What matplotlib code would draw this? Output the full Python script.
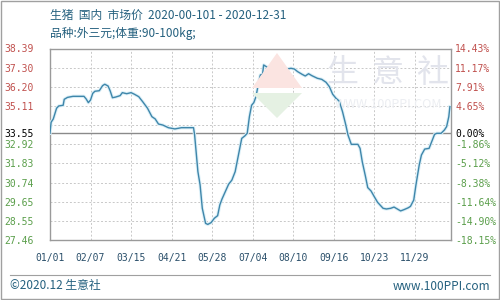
#!/usr/bin/env python3
# Live hog price (domestic market), 2020 -- left axis price, right axis change vs. first day
import matplotlib
matplotlib.use("Agg")
import matplotlib.pyplot as plt
from matplotlib.patches import Polygon, Rectangle

# ---- data (day offset from 2020-01-01, price yuan/kg) ----
days = [0, 1, 3, 6, 8, 12, 13, 16, 21, 31, 33, 35, 37, 39, 41, 45, 48, 50, 53, 55,
        57, 60, 64, 66, 70, 74, 77, 81, 85, 89, 93, 96, 99, 103, 108, 114, 120, 131,
        132, 135, 137, 139, 142, 144, 147, 150, 153, 155, 157, 160, 163, 166, 169,
        172, 175, 178, 180, 182, 184, 186, 188, 190, 192, 194, 195, 198, 203, 207,
        210, 213, 216, 220, 223, 226, 230, 233, 236, 239, 244, 248, 252, 255, 258,
        261, 264, 267, 270, 272, 275, 278, 281, 283, 285, 288, 290, 293, 296, 299,
        304, 307, 311, 314, 317, 320, 323, 327, 329, 332, 334, 337, 339, 342, 346,
        349, 351, 353, 357, 360, 362, 364, 365]
prices = [33.55, 34.18, 34.37, 34.98, 35.11, 35.15, 35.49, 35.60, 35.66, 35.66,
          35.51, 35.30, 35.45, 35.83, 35.95, 35.98, 36.27, 36.35, 36.25, 35.96,
          35.58, 35.62, 35.70, 35.87, 35.81, 35.87, 35.78, 35.64, 35.32, 34.98,
          34.50, 34.37, 34.08, 34.02, 33.87, 33.80, 33.87, 33.87, 33.45, 31.36,
          30.60, 29.27, 28.41, 28.35, 28.45, 28.70, 28.85, 29.46, 29.80, 30.22,
          30.64, 30.88, 31.36, 32.31, 33.26, 33.41, 33.55, 34.50, 35.15, 35.30,
          35.64, 36.31, 36.88, 36.92, 37.45, 37.33, 37.26, 37.16, 36.95, 37.03,
          37.22, 37.26, 37.22, 37.07, 36.92, 36.82, 36.95, 36.84, 36.69, 36.63,
          36.46, 36.21, 35.78, 35.55, 35.39, 34.78, 34.02, 33.45, 32.92, 32.92,
          32.92, 32.69, 31.93, 31.07, 30.45, 30.26, 29.93, 29.61, 29.27, 29.23,
          29.27, 29.34, 29.23, 29.12, 29.19, 29.30, 29.38, 29.74, 30.60, 31.74,
          32.31, 32.65, 32.69, 33.17, 33.49, 33.55, 33.55, 33.74, 33.93, 34.50,
          35.07]

base_price = 33.55
x_tick_days = [0, 37, 74, 111, 148, 185, 222, 259, 296, 333]
x_tick_labels = ["01/01", "02/07", "03/15", "04/21", "05/28",
                 "07/04", "08/10", "09/16", "10/23", "11/29"]
y_grid = [27.46, 28.55, 29.65, 30.74, 31.83, 32.92, 34.02, 35.11, 36.20, 37.30, 38.39]
y_labels = ["27.46", "28.55", "29.65", "30.74", "31.83", "32.92", "",
            "35.11", "36.20", "37.30", "38.39"]
pct_labels = ["-18.15%", "-14.90%", "-11.64%", "-8.38%", "-5.12%", "-1.86%", "",
              "4.65%", "7.91%", "11.17%", "14.43%"]

title1 = "生猪  国内  市场价  2020-00-101 - 2020-12-31"
title2 = "品种:外三元;体重:90-100kg;"
footer_left = "©2020.12 生意社"
footer_right = "www.100PPI.com"

W, H = 500, 300
RED, GREEN, BLACK = "#c0504d", "#5a9e4a", "#000000"
TEAL = "#24607e"
LINE = "#3f86aa"


def fx(x):
    return x / W


def fy(y):
    return 1 - y / H


def main():
    plt.rcParams["font.family"] = ["Noto Sans CJK SC", "DejaVu Sans"]
    fig = plt.figure(figsize=(W / 100, H / 100), dpi=100)
    fig.patch.set_facecolor("white")

    # outer frame
    fig.patches.append(Rectangle((0.001, 0.002), 0.997, 0.995, transform=fig.transFigure,
                                 fill=False, edgecolor="#a0a0a0", linewidth=1.0))

    ax = fig.add_axes([fx(50), fy(240), fx(451) - fx(50), fy(48.5) - fy(240)])
    ax.set_xlim(0, 366)
    ax.set_ylim(y_grid[0], y_grid[-1])

    # watermark: logo diamond + brand text
    wm_red = Polygon([(fx(252), fy(88)), (fx(277), fy(53)), (fx(302), fy(88))],
                     closed=True, transform=fig.transFigure, facecolor="#fbe4e1",
                     edgecolor="none", zorder=0)
    wm_green = Polygon([(fx(252), fy(93)), (fx(302), fy(93)), (fx(277), fy(118))],
                       closed=True, transform=fig.transFigure, facecolor="#e5f1e3",
                       edgecolor="none", zorder=0)
    fig.patches.extend([wm_red, wm_green])
    for ch, xc in zip("生意社", [342, 388, 432]):
        fig.text(fx(xc), fy(73), ch, fontsize=23, color="#e2e4ec", ha="center",
                 va="center", zorder=0)
    fig.text(fx(388), fy(105), "WWW.100PPI.COM", fontsize=9, color="#eceef2",
             ha="center", va="center", zorder=0)
    ax.patch.set_alpha(0)

    # grid
    for v in y_grid:
        ax.axhline(v, color="#c8c8c8", lw=0.7, ls=(0, (2, 2)), zorder=1)
    for d in x_tick_days[1:]:
        ax.axvline(d, color="#c8c8c8", lw=0.7, ls=(0, (2, 2)), zorder=1)
    ax.axhline(base_price, color="#8a8a8a", lw=1.0, zorder=2)

    ax.plot(days, prices, color="#dcf0f8", lw=2.4, zorder=3, solid_joinstyle="round")
    ax.plot(days, prices, color=LINE, lw=1.0, zorder=4)

    for s in ax.spines.values():
        s.set_color("#9a9a9a")
        s.set_linewidth(1.0)

    # x ticks
    ax.set_xticks(x_tick_days)
    ax.set_xticklabels(x_tick_labels, family="DejaVu Sans Mono", fontsize=7, color="#2a4f6a")
    ax.tick_params(axis="x", length=0, pad=9)

    # left price labels (red above base, green below, base in black)
    ax.set_yticks(y_grid + [base_price])
    ax.set_yticklabels(y_labels + [f"{base_price:.2f}"], family="DejaVu Sans Mono", fontsize=7)
    ax.tick_params(axis="y", length=0, pad=11.5)
    for t, v in zip(ax.get_yticklabels(), y_grid + [base_price]):
        t.set_color(RED if v > base_price else (GREEN if v < base_price else BLACK))

    # right percentage labels
    ax2 = ax.twinx()
    ax2.set_ylim(ax.get_ylim())
    ax2.set_yticks(y_grid + [base_price])
    ax2.set_yticklabels(pct_labels + ["0.00%"], family="DejaVu Sans Mono", fontsize=7)
    ax2.tick_params(axis="y", length=0, pad=3)
    for t, v in zip(ax2.get_yticklabels(), y_grid + [base_price]):
        t.set_color(RED if v > base_price else (GREEN if v < base_price else BLACK))
    for s in ax2.spines.values():
        s.set_visible(False)

    # titles
    fig.text(fx(50), fy(15), title1, fontsize=8.5, color=TEAL, ha="left", va="center")
    fig.text(fx(50), fy(33), title2, fontsize=8.5, color=TEAL, ha="left", va="center")

    # footer
    fig.add_artist(plt.Line2D([fx(10), fx(490)], [fy(275), fy(275)], color="#a0a0a0", lw=0.8))
    fig.text(fx(10), fy(286), footer_left, fontsize=8.5, color=TEAL, ha="left", va="center")
    fig.text(fx(490), fy(286), footer_right, fontsize=8.5, color=TEAL, ha="right", va="center")

    fig.savefig("out.png", dpi=100)


if __name__ == "__main__":
    main()
